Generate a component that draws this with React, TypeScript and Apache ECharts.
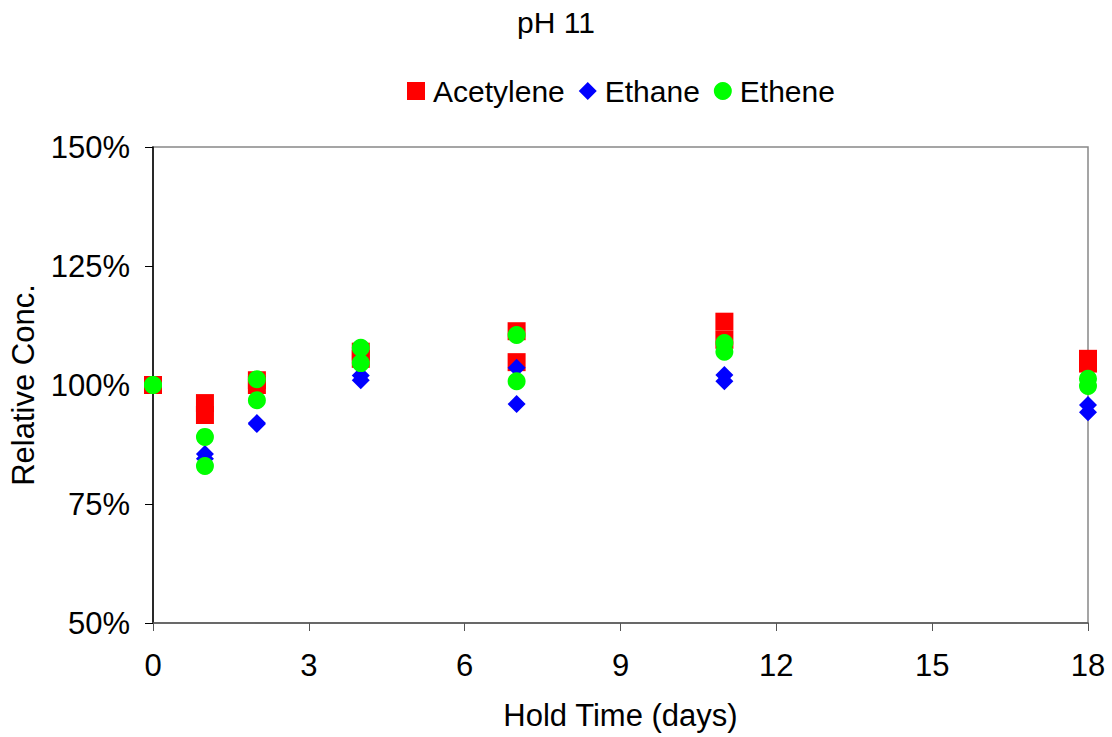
import React, { useEffect, useRef } from "react";
import * as echarts from "echarts";

const days = [0, 0, 1, 1, 2, 2, 4, 4, 7, 7, 11, 11, 18, 18];
const acetylene = [100, 100, 96.2, 93.7, 101, 100, 107, 105.5, 111.3, 104.8, 113.3, 109.5, 105.5, 104.5];
const ethane = [100, 100, 85.5, 84.5, 91.8, 92, 102, 101, 103.6, 96, 102.1, 100.8, 95.8, 94.3];
const ethene = [100, 100, 89.1, 83, 101.2, 96.8, 107.8, 104.6, 110.5, 100.8, 108.8, 107, 101.3, 99.8];
const seriesNames = ["Acetylene", "Ethane", "Ethene"];
const seriesColors = ["#FF0000", "#0000FF", "#00FF00"];
const seriesSymbols = ["rect", "diamond", "circle"];
const seriesSizes = [18, 18, 18];
const seriesValues = [acetylene, ethane, ethene];

const FONT = "Liberation Sans, Arial, sans-serif";

export default function App() {
  const ref = useRef<HTMLDivElement>(null);
  useEffect(() => {
    if (!ref.current) return;
    const chart = echarts.init(ref.current, null, { renderer: "svg" });
    chart.setOption({
      animation: false,
      backgroundColor: "#ffffff",
      textStyle: { fontFamily: FONT, color: "#000" },
      title: {
        text: "pH 11",
        left: "center",
        top: 2,
        textStyle: { fontFamily: FONT, fontSize: 30, fontWeight: "normal", color: "#000" },
      },
      legend: {
        top: 71,
        left: 402,
        itemWidth: 18,
        itemHeight: 18,
        itemGap: 14,
        textStyle: { fontFamily: FONT, fontSize: 30, color: "#000", padding: [0, 0, 0, 3] },
        data: seriesNames.map((n, i) => ({ name: n, icon: seriesSymbols[i] })),
      },
      grid: {
        left: 152,
        right: 24,
        top: 147,
        bottom: 114,
        show: true,
        borderColor: "#888888",
        borderWidth: 1.5,
      },
      xAxis: {
        type: "value",
        min: 0,
        max: 18,
        interval: 3,
        name: "Hold Time (days)",
        nameLocation: "middle",
        nameGap: 77,
        nameTextStyle: { fontFamily: FONT, fontSize: 31, color: "#000" },
        axisLine: { show: true, onZero: false, lineStyle: { color: "#555", width: 1.5 } },
        axisTick: { show: true, length: 8, lineStyle: { color: "#555" } },
        axisLabel: { fontFamily: FONT, fontSize: 31, color: "#000", margin: 27 },
        splitLine: { show: false },
      },
      yAxis: {
        type: "value",
        min: 50,
        max: 150,
        interval: 25,
        name: "Relative Conc.",
        nameLocation: "middle",
        nameGap: 114,
        nameTextStyle: { fontFamily: FONT, fontSize: 31, color: "#000" },
        axisLine: { show: true, lineStyle: { color: "#000", width: 1.5 } },
        axisTick: { show: true, length: 8, lineStyle: { color: "#000" } },
        axisLabel: { fontFamily: FONT, fontSize: 31, color: "#000", margin: 23, formatter: (v: number) => `${v}%` },
        splitLine: { show: false },
      },
      series: seriesNames.map((name, i) => ({
        name,
        type: "scatter",
        symbol: seriesSymbols[i],
        symbolSize: seriesSizes[i],
        itemStyle: { color: seriesColors[i], opacity: 1 },
        z: 2 + i,
        data: days.map((d, j) => [d, seriesValues[i][j]]),
      })),
    });
    return () => chart.dispose();
  }, []);
  return (
    <div
      ref={ref}
      style={{ position: "fixed", left: 0, top: 0, width: 1112, height: 737, background: "#fff" }}
    />
  );
}
